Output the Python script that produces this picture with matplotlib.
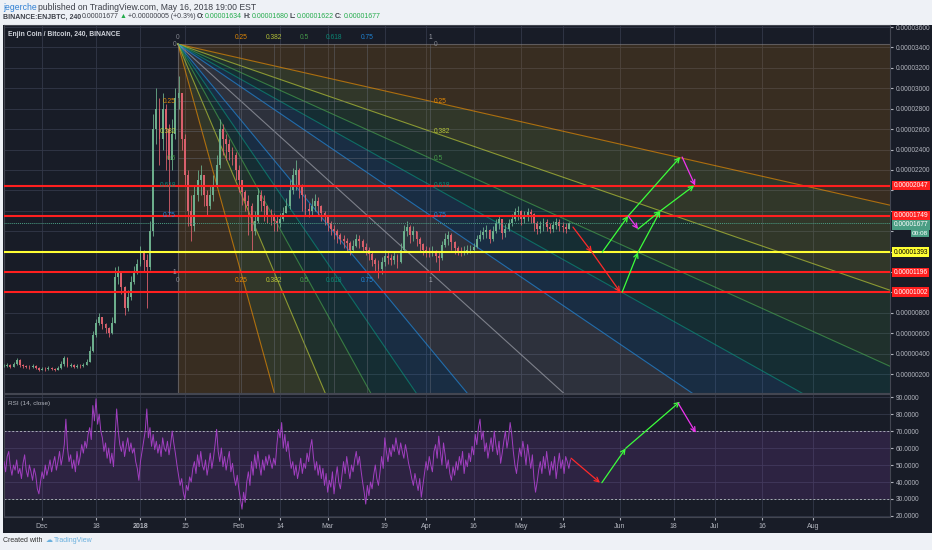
import numpy as np
import matplotlib
matplotlib.use('Agg')
import matplotlib.pyplot as plt
from matplotlib.patches import Polygon
from matplotlib.ticker import FuncFormatter
from matplotlib.transforms import blended_transform_factory

plt.rcParams['font.family'] = ['Liberation Sans', 'DejaVu Sans']

# --- Price data: daily candles, price in satoshi (1e-8 BTC), x = days since 2018-01-01 ---
first_day = -43          # 2017-11-19
first_open = 275
closes = [
    280, 290, 270, 300, 340, 290, 275, 270, 265, 280,
    260, 240, 250, 245, 260, 250, 240, 255, 300, 360,
    280, 290, 270, 280, 275, 290, 320, 430, 580, 700,
    760, 690, 650, 600, 700, 1150, 1200, 1050, 850, 950,
    1100, 1200, 1280, 1390, 1320, 1250, 1600, 2600, 2800, 2500,
    2800, 2600, 2300, 2550, 2900, 2950, 2500, 2150, 1800, 1650,
    1950, 2100, 2150, 1950, 1850, 1950, 2050, 2250, 2600, 2500,
    2450, 2380, 2350, 2200, 2100, 1980, 1900, 1850, 1600, 1700,
    1950, 1900, 1850, 1760, 1740, 1700, 1680, 1720, 1780, 1850,
    2000, 2150, 2200, 2050, 1950, 1820, 1800, 1850, 1900, 1850,
    1780, 1740, 1680, 1620, 1600, 1560, 1520, 1500, 1480, 1420,
    1450, 1520, 1500, 1440, 1420, 1380, 1320, 1280, 1230, 1300,
    1360, 1340, 1320, 1360, 1300, 1420, 1600, 1640, 1560, 1600,
    1520, 1470, 1420, 1395, 1390, 1400, 1360, 1340, 1460, 1520,
    1560, 1490, 1430, 1400, 1395, 1410, 1415, 1420, 1440, 1520,
    1560, 1590, 1610, 1520, 1600, 1680, 1720, 1580, 1620, 1680,
    1720, 1790, 1800, 1720, 1760, 1790, 1770, 1680, 1620, 1650,
    1690, 1640, 1620, 1660, 1690, 1650, 1640, 1620, 1677,
]
highs = [
    300, 310, 295, 320, 360, 345, 295, 290, 285, 300,
    285, 265, 270, 265, 280, 270, 262, 280, 330, 380,
    365, 310, 295, 300, 295, 310, 350, 470, 620, 740,
    800, 760, 700, 660, 760, 1250, 1260, 1200, 1060, 1020,
    1160, 1260, 1330, 1450, 1420, 1380, 1700, 2750, 3000, 2900,
    2950, 2850, 2650, 2700, 3000, 3120, 2950, 2550, 2200, 1950,
    2050, 2200, 2250, 2150, 2000, 2050, 2150, 2350, 2700, 2650,
    2550, 2500, 2420, 2380, 2250, 2100, 2000, 1950, 1880, 1800,
    2020, 2000, 1950, 1860, 1820, 1780, 1750, 1780, 1840, 1920,
    2100, 2220, 2300, 2220, 2060, 1960, 1880, 1920, 1960, 1930,
    1860, 1800, 1760, 1700, 1660, 1620, 1580, 1560, 1530, 1500,
    1510, 1570, 1560, 1520, 1480, 1440, 1400, 1340, 1320, 1350,
    1420, 1410, 1380, 1400, 1380, 1480, 1660, 1700, 1660, 1650,
    1600, 1540, 1480, 1450, 1440, 1450, 1420, 1400, 1500, 1580,
    1600, 1580, 1500, 1450, 1440, 1450, 1460, 1460, 1480, 1560,
    1610, 1640, 1660, 1620, 1650, 1720, 1760, 1720, 1670, 1720,
    1770, 1830, 1850, 1810, 1800, 1830, 1820, 1780, 1700, 1700,
    1730, 1720, 1680, 1700, 1730, 1720, 1690, 1680, 1690,
]
lows = [
    265, 270, 255, 265, 285, 270, 260, 255, 250, 260,
    245, 225, 235, 230, 240, 235, 225, 238, 250, 280,
    265, 270, 255, 262, 260, 270, 285, 315, 420, 560,
    680, 640, 600, 560, 590, 700, 1080, 980, 780, 820,
    930, 1080, 1180, 1260, 1200, 850, 1220, 1550, 2450, 2250,
    2400, 2200, 1750, 2200, 2500, 2800, 2400, 2050, 1650, 1500,
    1600, 1900, 1950, 1850, 1750, 1820, 1900, 2030, 2220, 2350,
    2300, 2300, 2250, 2100, 1980, 1860, 1800, 1560, 1420, 1560,
    1680, 1800, 1700, 1680, 1660, 1600, 1600, 1640, 1700, 1780,
    1820, 1960, 2000, 1920, 1800, 1760, 1740, 1760, 1800, 1750,
    1700, 1660, 1600, 1560, 1520, 1480, 1470, 1430, 1410, 1370,
    1400, 1440, 1430, 1400, 1370, 1320, 1260, 1210, 1140, 1180,
    1260, 1280, 1270, 1280, 1240, 1290, 1400, 1550, 1480, 1500,
    1450, 1400, 1370, 1350, 1350, 1355, 1300, 1200, 1320, 1440,
    1460, 1420, 1380, 1370, 1360, 1370, 1380, 1390, 1400, 1430,
    1500, 1520, 1530, 1480, 1500, 1580, 1620, 1520, 1540, 1600,
    1650, 1700, 1710, 1660, 1680, 1700, 1680, 1600, 1570, 1580,
    1600, 1600, 1580, 1590, 1620, 1600, 1590, 1580, 1620,
]

# RSI(14), two readings per day starting at first_day
rsi_values = [
    52, 46, 55, 58, 49, 44, 50, 47, 53, 45, 48, 42, 51, 56, 47, 43, 50, 46, 41, 48,
    44, 36, 33, 40, 46, 42, 50, 44, 48, 53, 46, 51, 55, 47, 52, 58, 50, 55, 62, 77,
    60, 52, 56, 48, 53, 46, 58, 50, 55, 62, 57, 64, 60, 68, 72, 65, 85, 76, 89, 74,
    80, 70, 66, 58, 63, 54, 60, 51, 57, 49, 66, 83, 70, 62, 58, 64, 55, 61, 66, 58,
    63, 57, 60, 52, 48, 41, 52, 58, 64, 70, 83, 66, 72, 61, 68, 59, 64, 57, 62, 55,
    66, 60, 58, 64, 56, 62, 70, 63, 57, 50, 44, 38, 42, 34, 30, 38, 35, 43, 40, 48,
    52, 45, 56, 49, 58, 50, 47, 53, 44, 50, 57, 48, 54, 62, 71, 58, 52, 60, 49, 55,
    47, 53, 58, 46, 51, 43, 38, 44, 36, 30, 24, 34, 28, 40, 46, 38, 52, 44, 56, 48,
    58, 50, 44, 53, 47, 55, 50, 56, 52, 48, 54, 50, 62, 71, 66, 75, 60, 68, 58, 64,
    55, 48, 52, 44, 50, 42, 47, 54, 45, 51, 48, 57, 52, 60, 65, 55, 47, 52, 44, 50,
    42, 48, 38, 45, 34, 41, 37, 46, 33, 42, 49, 40, 36, 44, 52, 45, 55, 48, 42, 50,
    46, 53, 58, 50, 55, 47, 40, 34, 27, 38, 32, 40, 36, 44, 50, 42, 38, 46, 55, 48,
    66, 58, 52, 60, 55, 62, 58, 66, 60, 56, 63, 58, 54, 62, 57, 51, 47, 42, 38, 45,
    40, 35, 42, 31, 38, 45, 52, 47, 55, 50, 46, 58, 62, 54, 67, 58, 50, 63, 56, 48,
    53, 45, 41, 49, 44, 52, 47, 55, 50, 58, 45, 53, 49, 57, 52, 61, 56, 68, 62, 72,
    77, 65, 70, 58, 63, 54, 60, 66, 58, 70, 62, 56, 64, 51, 57, 64, 70, 60, 66, 75,
    68, 58, 50, 45, 53, 60, 55, 64, 58, 50, 62, 55, 48, 56, 42, 34, 40, 47, 52, 45,
    55, 48, 58, 50, 44, 52, 47, 55, 42, 50, 57, 48, 53, 45, 55, 52, 48, 53,
]

# date axis
tick_dates = ['2017-12-01', '2017-12-18', '2018-01-01', '2018-01-15', '2018-02-01',
              '2018-02-14', '2018-03-01', '2018-03-19', '2018-04-01', '2018-04-16',
              '2018-05-01', '2018-05-14', '2018-06-01', '2018-06-18', '2018-07-01',
              '2018-07-16', '2018-08-01']
tick_labels = ['Dec', '18', '2018', '15', 'Feb', '14', 'Mar', '19', 'Apr', '16',
               'May', '14', 'Jun', '18', 'Jul', '16', 'Aug']

# Fib speed resistance fan, anchored (day, price) -> (day, price)
fan_start = (11.8, 3433)
fan_end = (91.3, 1196)
fan_levels = [0.25, 0.382, 0.5, 0.618, 0.75, 1]
fan_labels = ['0.25', '0.382', '0.5', '0.618', '0.75', '1']
fan_colors = ['#ff9800', '#cddc39', '#4caf50', '#089981', '#2196f3', '#b2b5be']

# horizontal levels
red_levels = [2047, 1749, 1196, 1002]
yellow_level = 1393
last_price = 1677

# price ticks hidden behind the level tags on the axis
hidden_ticks = [2000, 1800, 1600, 1400, 1200, 1000]

# hand drawn arrows: (start, end, colour)
price_arrows = [
    ((136.3, 1640), (142.3, 1393), 'red'),
    ((142.3, 1393), (151.2, 1002), 'red'),
    ((145.5, 1393), (153.7, 1749), 'green'),
    ((153.7, 1749), (170.1, 2326), 'green'),
    ((153.7, 1749), (156.8, 1621), 'magenta'),
    ((156.8, 1621), (163.8, 1797), 'green'),
    ((151.8, 1002), (156.8, 1393), 'green'),
    ((156.8, 1393), (163.8, 1797), 'green'),
    ((163.8, 1797), (174.5, 2047), 'green'),
    ((170.7, 2326), (174.8, 2047), 'magenta'),
]
rsi_arrows = [
    ((135.7, 54), (144.8, 39.6), 'red'),
    ((145.4, 39.6), (152.9, 59.8), 'green'),
    ((152.9, 59.8), (170.0, 87.3), 'green'),
    ((169.4, 86.5), (175.0, 69.0), 'magenta'),
]
arrow_colors = {'red': '#ff2a2a', 'green': '#3cff3c', 'magenta': '#f035f0'}

# --- Colours ---
dark = '#181c27'
light = '#eef1f6'
grid_col = '#333849'
axis_text = '#b2b5be'
up_col, down_col = '#6cae8c', '#d9606c'

W, H = 932, 550
fig = plt.figure(figsize=(W / 100, H / 100), dpi=100, facecolor=light)


def px_rect(left, top, right, bottom):
    return [left / W, 1 - bottom / H, (right - left) / W, (bottom - top) / H]


back = fig.add_axes(px_rect(3, 25, 932, 533))
back.set_facecolor(dark)
back.set_xticks([])
back.set_yticks([])
for s in back.spines.values():
    s.set_visible(False)

ax = fig.add_axes(px_rect(4, 25, 890, 393))
rsi = fig.add_axes(px_rect(4, 394, 890, 517), sharex=ax)
for a in (ax, rsi):
    a.set_facecolor(dark)
    a.set_axisbelow(True)
    a.grid(True, color=grid_col, lw=0.6)
    for s in a.spines.values():
        s.set_color('#434651')
        s.set_linewidth(0.8)
    a.yaxis.tick_right()

# --- Candles ---
days = first_day + np.arange(len(closes))
closes = np.array(closes, dtype=float)
opens = np.concatenate([[first_open], closes[:-1]])
colors = np.where(closes >= opens, up_col, down_col)
ax.vlines(days, lows, highs, colors=colors, lw=0.6, zorder=3)
ax.bar(days, np.maximum(np.abs(closes - opens), 8), bottom=np.minimum(opens, closes),
       width=0.6, color=colors, lw=0, zorder=3)

# --- Fib speed resistance fan ---
x0, y0 = fan_start
x1, y1 = fan_end
dx, dy = x1 - x0, y1 - y0
rays = [(dx, 0)] + [(dx, f * dy) for f in fan_levels] + \
       [(f * dx, dy) for f in fan_levels[-2::-1]] + [(0, dy)]
wedge_colors = fan_colors + fan_colors[::-1]
ray_colors = ['#787b86'] + fan_colors + fan_colors[-2::-1] + ['#787b86']
far = 12
for i in range(len(rays) - 1):
    (ax_, ay_), (bx_, by_) = rays[i], rays[i + 1]
    ax.add_patch(Polygon([(x0, y0), (x0 + far * ax_, y0 + far * ay_),
                          (x0 + far * bx_, y0 + far * by_)],
                         closed=True, fc=wedge_colors[i], alpha=0.14, lw=0, zorder=1))
for (rx, ry), c in zip(rays, ray_colors):
    ax.plot([x0, x0 + far * rx], [y0, y0 + far * ry], color=c, lw=0.8, alpha=0.6, zorder=2)

# fan grid
for f in fan_levels:
    ax.plot([x0 + f * dx] * 2, [y0, -500], color='#6a6e7a', lw=0.5, alpha=0.6, zorder=2)
    ax.plot([x0, x1], [y0 + f * dy] * 2, color='#6a6e7a', lw=0.5, alpha=0.6, zorder=2)

lab_kw = dict(fontsize=4.8, zorder=5, alpha=0.85)
for f, s, c in zip([0] + fan_levels, ['0'] + fan_labels, ['#9598a1'] + fan_colors):
    ax.text(x0 + f * dx, y0 + 60, s, color=c, ha='center', va='center', **lab_kw)
    ax.text(x0 + f * dx, y1 - 80, s, color=c, ha='center', va='center', **lab_kw)
    ax.text(x0 - 0.6, y0 + f * dy, s, color=c, ha='right', va='center', **lab_kw)
    if f < 1:
        ax.text(x1 + 1.0, y0 + f * dy, s, color=c, ha='left', va='center', **lab_kw)

# --- Horizontal levels ---
for lvl in red_levels:
    ax.axhline(lvl, color='#ff1f1f', lw=1.5, zorder=4)
ax.axhline(yellow_level, color='#ffff33', lw=1.5, zorder=4)
ax.axhline(last_price, color='#4a9e84', lw=0.7, ls=(0, (1, 1)), zorder=4)

trans = blended_transform_factory(ax.transAxes, ax.transData)
tag_kw = dict(transform=trans, ha='left', va='center', fontsize=4.8, clip_on=False, zorder=10)
for lvl in red_levels:
    ax.text(1.004, lvl, f'{lvl / 1e8:.8f}', color='white',
            bbox=dict(boxstyle='square,pad=0.2', fc='#ff1f1f', ec='none'), **tag_kw)
ax.text(1.004, yellow_level, f'{yellow_level / 1e8:.8f}', color='black',
        bbox=dict(boxstyle='square,pad=0.2', fc='#ffff33', ec='none'), **tag_kw)
ax.text(1.004, last_price - 15, f'{last_price / 1e8:.8f}', color='white',
        bbox=dict(boxstyle='square,pad=0.2', fc='#4a9e84', ec='none'), **tag_kw)
ax.text(1.043, last_price - 100, '00:08', transform=trans, ha='right', va='center',
        fontsize=4.6, color='white', clip_on=False, zorder=10,
        bbox=dict(boxstyle='square,pad=0.2', fc='#4a9e84', ec='none'))

# --- Arrows ---
for start, end, c in price_arrows:
    ax.annotate('', xy=end, xytext=start, zorder=6,
                arrowprops=dict(arrowstyle='->', color=arrow_colors[c], lw=0.9,
                                shrinkA=0, shrinkB=0, mutation_scale=8))
for start, end, c in rsi_arrows:
    rsi.annotate('', xy=end, xytext=start, zorder=6,
                 arrowprops=dict(arrowstyle='->', color=arrow_colors[c], lw=0.9,
                                 shrinkA=0, shrinkB=0, mutation_scale=8))

# --- RSI panel ---
rsi_x = first_day + 0.5 * np.arange(len(rsi_values))
rsi.axhspan(30, 70, color='#7b3fa6', alpha=0.22, lw=0, zorder=1)
rsi.plot(rsi_x, rsi_values, color='#a13fc0', lw=0.7, zorder=3)
for lvl in (70, 30):
    rsi.axhline(lvl, color='#a8abb5', lw=0.7, ls=(0, (2, 2)), zorder=2)
rsi.text(0.005, 0.92, 'RSI (14, close)', transform=rsi.transAxes, fontsize=4.6,
         color=axis_text, va='center')

# --- Axes ---
base = np.datetime64('2018-01-01')
tick_days = [int((np.datetime64(d) - base).astype(int)) for d in tick_dates]
rsi.set_xticks(tick_days)
rsi.set_xticklabels(tick_labels)
for lab in rsi.get_xticklabels():
    if lab.get_text() == '2018':
        lab.set_fontweight('bold')
ax.tick_params(axis='x', labelbottom=False, length=0)
rsi.tick_params(axis='x', labelsize=5, colors=axis_text, length=2, pad=2)

ax.set_yticks(range(200, 3601, 200))
ax.yaxis.set_major_formatter(FuncFormatter(
    lambda v, p: '' if round(v) in hidden_ticks else f'{v / 1e8:.8f}'))
ax.tick_params(axis='y', labelsize=4.8, colors=axis_text, length=2, pad=2)
rsi.set_yticks(range(20, 91, 10))
rsi.yaxis.set_major_formatter(FuncFormatter(lambda v, p: f'{v:.4f}'))
rsi.tick_params(axis='y', labelsize=4.8, colors=axis_text, length=2, pad=2)

ax.set_xlim(-43.0, 236.2)
ax.set_ylim(14, 3620)
rsi.set_ylim(19.4, 91.8)

ax.text(0.004, 0.975, 'Enjin Coin / Bitcoin, 240, BINANCE', transform=ax.transAxes,
        fontsize=4.9, color='#d1d4dc', va='center', fontweight='bold')

# --- Header and footer ---
renderer = fig.canvas.get_renderer()


def text_run(x, y, pieces, size):
    for s, color, weight in pieces:
        t = fig.text(x / W, 1 - y / H, s, fontsize=size, color=color,
                     fontweight=weight, ha='left', va='center')
        x = t.get_window_extent(renderer).x1 + 1


ink = '#3c3f48'
green = '#22ab4a'
text_run(3, 7, [('jegerche', '#2e7fd3', 'normal'),
                ('published on TradingView.com, May 16, 2018 19:00 EST', ink, 'normal')], 6.2)
text_run(3, 17, [('BINANCE:ENJBTC, 240', ink, 'bold'), ('0.00001677', ink, 'normal'),
                 ('▲', green, 'normal'), ('+0.00000005 (+0.3%)', ink, 'normal'),
                 ('O:', ink, 'bold'), ('0.00001634', green, 'normal'),
                 ('H:', ink, 'bold'), ('0.00001680', green, 'normal'),
                 ('L:', ink, 'bold'), ('0.00001622', green, 'normal'),
                 ('C:', ink, 'bold'), ('0.00001677', green, 'normal')], 5)
text_run(3, 541, [('Created with', '#333333', 'normal'), (' ☁', '#6ab0de', 'normal'),
                  ('TradingView', '#6ab0de', 'normal')], 5)

fig.savefig('out.png', dpi=100, facecolor=light)
